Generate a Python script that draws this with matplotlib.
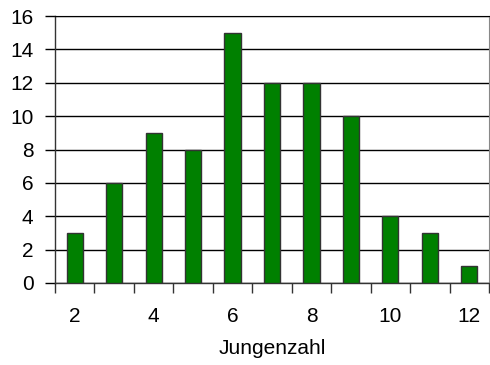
import matplotlib.pyplot as plt
import numpy as np

# Wurfgröße (Jungenzahl) und Häufigkeit
jungenzahl = [2, 3, 4, 5, 6, 7, 8, 9, 10, 11, 12]
anzahl = [3, 6, 9, 8, 15, 12, 12, 10, 4, 3, 1]
x_labels = ['2', '4', '6', '8', '10', '12']
y_ticks = [0, 2, 4, 6, 8, 10, 12, 14, 16]

plt.rcParams['font.family'] = ['Liberation Sans', 'DejaVu Sans']
fs = 15

fig = plt.figure(figsize=(4.9, 3.65), dpi=100)
ax = fig.add_axes([55 / 490, 1 - 283 / 365, 434 / 490, 267 / 365])

pos = np.arange(len(jungenzahl))
ax.bar(pos, anzahl, width=0.41, color='#008000', edgecolor='#333333',
       linewidth=1.0, zorder=3)

ax.set_xlim(-0.5, len(jungenzahl) - 0.5)
ax.set_ylim(0, 16)
ax.set_yticks(y_ticks)
ax.yaxis.grid(True, color='black', linewidth=1.0, zorder=0)

# Tick marks between categories, labels only on every second category
ax.set_xticks(np.arange(len(jungenzahl) + 1) - 0.5)
ax.set_xticklabels([])
ax.set_xticks(pos[::2], minor=True)
ax.set_xticklabels(x_labels, minor=True)
ax.tick_params(axis='x', which='major', length=7, width=1.0, direction='out',
               color='#333333')
ax.tick_params(axis='x', which='minor', length=0, pad=17.5, labelsize=fs)
ax.tick_params(axis='y', length=7, width=1.0, direction='out', labelsize=fs,
               pad=8.5)

for side in ['left', 'bottom']:
    ax.spines[side].set_color('#333333')
    ax.spines[side].set_linewidth(1.0)
ax.spines['top'].set_color('black')
ax.spines['right'].set_color('#888888')

ax.set_xlabel('Jungenzahl', fontsize=fs, labelpad=9)

fig.savefig('out.png', dpi=100)
